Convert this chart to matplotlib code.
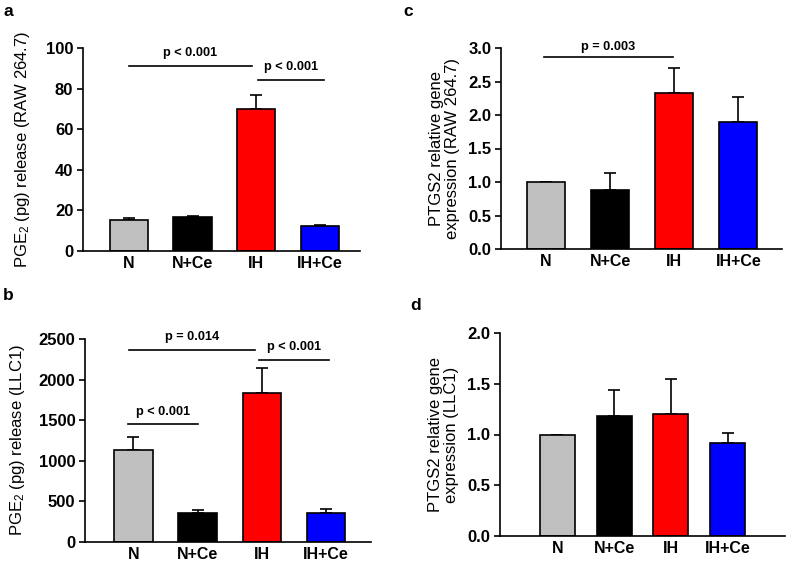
import numpy as np
import matplotlib
matplotlib.use("Agg")
import matplotlib.pyplot as plt

plt.rcParams['font.family'] = ['Liberation Sans', 'DejaVu Sans']
plt.rcParams['mathtext.fontset'] = 'custom'
plt.rcParams['mathtext.rm'] = 'Liberation Sans'
plt.rcParams['mathtext.it'] = 'Liberation Sans:italic'
plt.rcParams['mathtext.bf'] = 'Liberation Sans:bold'

groups = ['N', 'N+Ce', 'IH', 'IH+Ce']
colors = ['#c0c0c0', '#000000', '#ff0000', '#0000ff']

# panel a: PGE2 release RAW 264.7
a_mean = [15.5, 16.8, 70.0, 12.3]
a_err = [0.8, 0.5, 7.0, 0.7]
# panel b: PGE2 release LLC1
b_mean = [1130, 360, 1830, 360]
b_err = [160, 30, 310, 50]
# panel c: PTGS2 RAW 264.7
c_mean = [1.0, 0.88, 2.33, 1.90]
c_err = [0.0, 0.26, 0.37, 0.37]
# panel d: PTGS2 LLC1
d_mean = [1.0, 1.18, 1.20, 0.92]
d_err = [0.0, 0.26, 0.35, 0.09]

W, H = 787, 563
fig = plt.figure(figsize=(W / 100, H / 100), dpi=100)


def px_axes(x0, x1, ytop, ybot):
    return fig.add_axes([x0 / W, 1 - ybot / H, (x1 - x0) / W, (ybot - ytop) / H])


def draw(ax, mean, err, ymax, step, xlim, width, ylabel, fmt, lpad):
    x = np.arange(len(groups))
    ax.bar(x, mean, width=width, color=colors, edgecolor='black', linewidth=1.2, zorder=2)
    ax.errorbar(x, mean, yerr=[np.zeros(len(err)), err], fmt='none', ecolor='black',
                elinewidth=1.2, capsize=4.5, capthick=1.2, zorder=1)
    ax.set_xlim(*xlim)
    ax.set_ylim(0, ymax)
    ticks = np.arange(0, ymax + step / 2, step)
    ax.set_yticks(ticks)
    ax.set_yticklabels([fmt.format(t) for t in ticks])
    ax.set_xticks(x)
    ax.set_xticklabels(groups)
    for s in ['top', 'right']:
        ax.spines[s].set_visible(False)
    for s in ['left', 'bottom']:
        ax.spines[s].set_linewidth(1.2)
    ax.tick_params(axis='y', direction='out', length=4, width=1.2, pad=3, labelsize=12)
    ax.tick_params(axis='x', length=0, pad=3.5, labelsize=11.5)
    for lab in ax.get_xticklabels() + ax.get_yticklabels():
        lab.set_fontweight('bold')
    ax.set_ylabel(ylabel, fontsize=12, labelpad=lpad, linespacing=1.05)


def sig(ax, x0, x1, y, ty, text):
    ax.plot([x0, x1], [y, y], color='black', lw=1.2, clip_on=False)
    ax.text((x0 + x1) / 2, ty, text, ha='center', va='center', fontsize=9.2,
            fontweight='bold', clip_on=False)


ax_a = px_axes(83, 360, 48, 251)
draw(ax_a, a_mean, a_err, 100, 20, (-0.72, 3.63), 0.6,
     'PGE$_2$ (pg) release (RAW 264.7)', '{:.0f}', 10)
sig(ax_a, 0, 1.93, 91, 97.5, 'p < 0.001')
sig(ax_a, 2.03, 3.06, 84, 90.5, 'p < 0.001')

ax_c = px_axes(501, 782, 48, 249)
draw(ax_c, c_mean, c_err, 3.0, 0.5, (-0.70, 3.68), 0.59,
     'PTGS2 relative gene\nexpression (RAW 264.7)', '{:.1f}', 6)
sig(ax_c, -0.03, 1.98, 2.87, 3.02, 'p = 0.003')

ax_b = px_axes(85, 371, 339, 542)
draw(ax_b, b_mean, b_err, 2500, 500, (-0.755, 3.70), 0.6,
     'PGE$_2$ (pg) release (LLC1)', '{:.0f}', 8)
sig(ax_b, -0.07, 1.89, 2365, 2525, 'p = 0.014')
sig(ax_b, 1.95, 3.05, 2240, 2400, 'p < 0.001')
sig(ax_b, -0.09, 1.0, 1450, 1600, 'p < 0.001')

ax_d = px_axes(500, 785, 333, 536)
draw(ax_d, d_mean, d_err, 2.0, 0.5, (-1.01, 4.01), 0.62,
     'PTGS2 relative gene\nexpression (LLC1)', '{:.1f}', 6)

for lab, (px, py) in zip(['a', 'c', 'b', 'd'], [(3, 12), (403, 12), (3, 295), (410, 306)]):
    fig.text(px / W, 1 - py / H, lab, fontsize=12.5, fontweight='bold', ha='left', va='center')

fig.savefig('out.png', dpi=100)
